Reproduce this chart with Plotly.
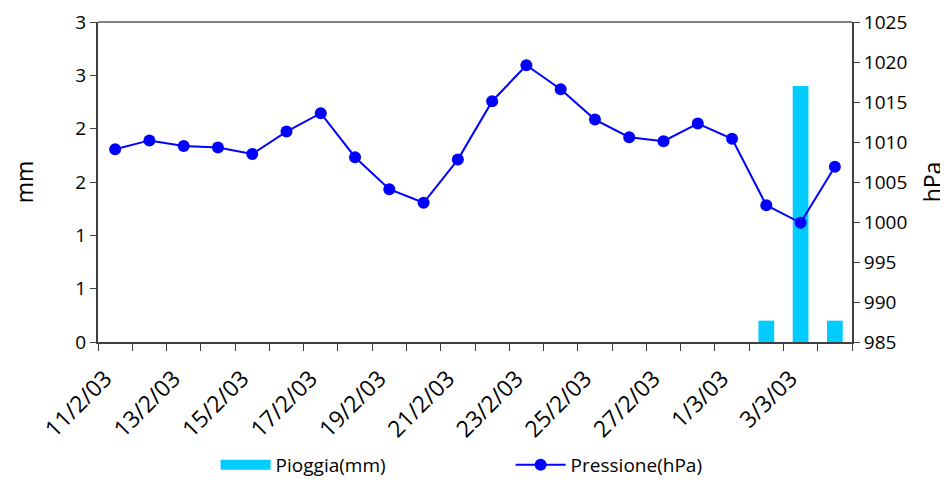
import plotly.graph_objects as go

dates = ["11/2/03", "12/2/03", "13/2/03", "14/2/03", "15/2/03", "16/2/03", "17/2/03",
         "18/2/03", "19/2/03", "20/2/03", "21/2/03", "22/2/03", "23/2/03", "24/2/03",
         "25/2/03", "26/2/03", "27/2/03", "28/2/03", "1/3/03", "2/3/03", "3/3/03", "4/3/03"]
pioggia_mm = [0, 0, 0, 0, 0, 0, 0, 0, 0, 0, 0, 0, 0, 0, 0, 0, 0, 0, 0, 0.2, 2.4, 0.2]
pressione_hpa = [1009.1, 1010.2, 1009.5, 1009.3, 1008.5, 1011.3, 1013.6, 1008.1, 1004.1,
                 1002.4, 1007.8, 1015.1, 1019.6, 1016.6, 1012.8, 1010.6, 1010.1, 1012.3,
                 1010.4, 1002.1, 999.9, 1006.9]
x_tick_labels = [d if i % 2 == 0 else "" for i, d in enumerate(dates)]
mm_tick_vals = [0, 0.5, 1, 1.5, 2, 2.5, 3]
mm_tick_labels = ["0", "1", "1", "2", "2", "3", "3"]
hpa_tick_vals = [985, 990, 995, 1000, 1005, 1010, 1015, 1020, 1025]

FONT = "Open Sans"
BAR_COLOR = "#00CCFF"
LINE_COLOR = "#0000FF"
AXIS_COLOR = "#404040"

fig = go.Figure()
fig.add_trace(go.Bar(x=dates, y=pioggia_mm, name="Pioggia(mm)", legendgroup="p",
                     showlegend=False,
                     marker=dict(color=BAR_COLOR, line=dict(width=0)), yaxis="y"))
# legend-only entry drawn as a wide cyan block, like the original legend key
fig.add_trace(go.Scatter(x=[None], y=[None], name="Pioggia(mm)", legendgroup="p",
                         mode="lines", line=dict(color=BAR_COLOR, width=14), yaxis="y"))
fig.add_trace(go.Scatter(x=dates, y=pressione_hpa, name="Pressione(hPa)", mode="lines+markers",
                         line=dict(color=LINE_COLOR, width=2),
                         marker=dict(color=LINE_COLOR, size=12), yaxis="y2"))

fig.update_layout(
    width=940, height=476,
    margin=dict(l=90, r=96, t=14, b=142),
    plot_bgcolor="white", paper_bgcolor="white",
    font=dict(family=FONT, size=19, color="#000000"),
    bargap=0.54,
    showlegend=True,
    legend=dict(orientation="h", xref="paper", x=0.156, xanchor="left",
                yref="container", y=-0.012, yanchor="bottom",
                font=dict(size=19), entrywidth=230, itemwidth=50,
                bgcolor="rgba(0,0,0,0)"),
    xaxis=dict(type="category", tickmode="array", tickvals=dates, ticktext=x_tick_labels,
               tickangle=-45, tickson="boundaries", ticks="outside", ticklen=7,
               tickfont=dict(size=23), ticklabelshift=-10, ticklabelstandoff=12,
               tickcolor=AXIS_COLOR, showline=True, linecolor=AXIS_COLOR, linewidth=2,
               showgrid=False, automargin=False, range=[-0.5, len(dates) - 0.5]),
    yaxis=dict(range=[0, 3], tickmode="array", tickvals=mm_tick_vals, ticktext=mm_tick_labels,
               ticks="outside", ticklen=6, tickcolor=AXIS_COLOR, showline=True,
               linecolor=AXIS_COLOR, linewidth=2, showgrid=False, zeroline=False,
               automargin=False, title=dict(text="mm", standoff=60)),
    yaxis2=dict(range=[985, 1025], tickmode="array", tickvals=hpa_tick_vals,
                overlaying="y", side="right", ticks="outside", ticklen=6, tickcolor=AXIS_COLOR,
                showline=True, linecolor=AXIS_COLOR, linewidth=2, showgrid=False,
                zeroline=False, automargin=False, title=dict(text="hPa", standoff=20)),
)
fig.add_shape(type="line", xref="paper", yref="paper", x0=0, x1=1, y0=1, y1=1,
              line=dict(color="#808080", width=2))
fig.write_html("out.html")
